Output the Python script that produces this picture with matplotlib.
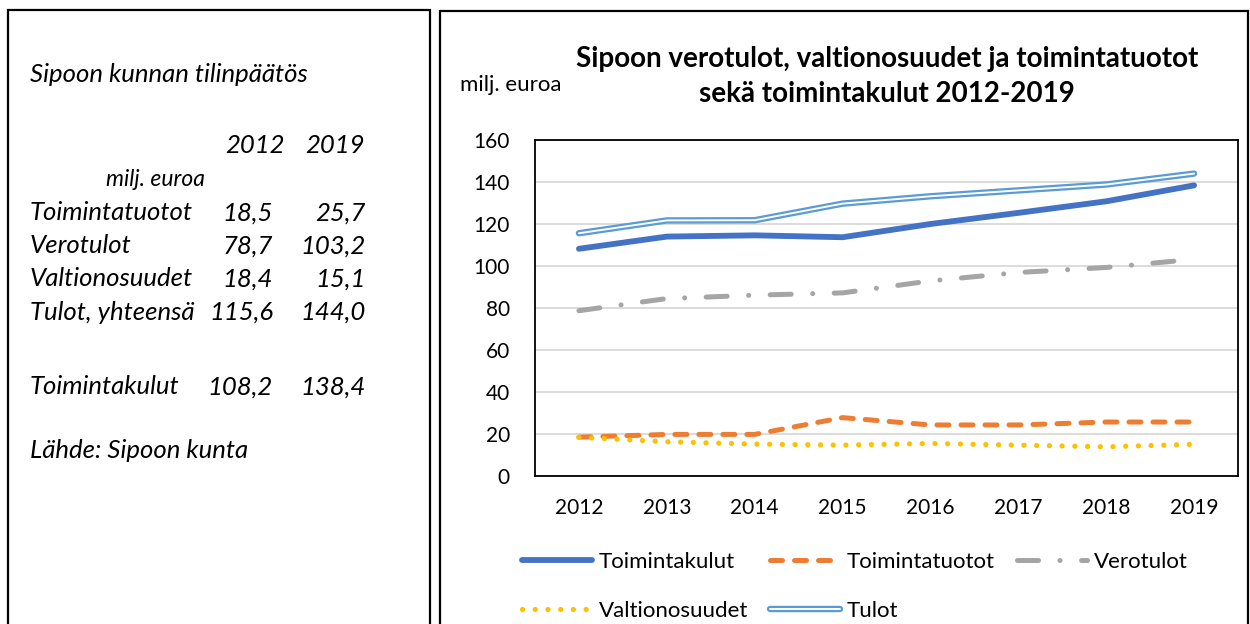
import matplotlib
matplotlib.use("Agg")
import matplotlib.pyplot as plt
import matplotlib.patheffects as pe
from matplotlib.patches import Rectangle

plt.rcParams['font.family'] = ['Lato', 'DejaVu Sans']

# ---- data ----
years = ["2012", "2013", "2014", "2015", "2016", "2017", "2018", "2019"]
toimintakulut = [108.2, 114.0, 114.6, 113.7, 120.0, 125.3, 130.8, 138.4]
toimintatuotot = [18.5, 19.8, 19.8, 27.8, 24.3, 24.3, 25.7, 25.7]
verotulot = [78.7, 84.5, 86.1, 87.2, 92.9, 96.9, 99.3, 103.2]
valtionosuudet = [18.4, 16.3, 15.2, 14.7, 15.5, 14.7, 13.9, 15.1]
tulot = [115.6, 121.7, 121.8, 129.7, 133.2, 136.0, 138.8, 144.0]

yticks = [0, 20, 40, 60, 80, 100, 120, 140, 160]

table_title = "Sipoon kunnan tilinpäätös"
table_years = ["2012", "2019"]
table_unit = "milj. euroa"
table_rows = ["Toimintatuotot", "Verotulot", "Valtionosuudet", "Tulot, yhteensä", "Toimintakulut"]
table_2012 = ["18,5", "78,7", "18,4", "115,6", "108,2"]
table_2019 = ["25,7", "103,2", "15,1", "144,0", "138,4"]
source = "Lähde: Sipoon kunta"

chart_title = "Sipoon verotulot, valtionosuudet ja toimintatuotot\nsekä toimintakulut 2012-2019"

W, H = 1250, 624
fig = plt.figure(figsize=(W / 100, H / 100), dpi=100)

def fx(px):
    return px / W

def fy(py):
    return 1 - py / H

# panel boxes
fig.add_artist(Rectangle((fx(8), fy(640)), fx(430 - 8), (640 - 10) / H,
                         transform=fig.transFigure, fill=False, ec='black', lw=1.6))
fig.add_artist(Rectangle((fx(440), fy(640)), fx(1248 - 440), (640 - 11) / H,
                         transform=fig.transFigure, fill=False, ec='black', lw=1.6))

# ---- left panel text ----
tkw = dict(style='italic', color='black', fontsize=18.5, va='center')
fig.text(fx(30), fy(75), table_title, ha='left', **tkw)
fig.text(fx(285), fy(145), table_years[0], ha='right', **tkw)
fig.text(fx(365), fy(145), table_years[1], ha='right', **tkw)
fig.text(fx(106), fy(180), table_unit, ha='left', style='italic', fontsize=16.5, va='center')
row_y = [213, 246, 279, 312, 387]
for lab, v1, v2, yy in zip(table_rows, table_2012, table_2019, row_y):
    fig.text(fx(30), fy(yy), lab, ha='left', **tkw)
    fig.text(fx(273), fy(yy), v1, ha='right', **tkw)
    fig.text(fx(366), fy(yy), v2, ha='right', **tkw)
fig.text(fx(30), fy(450), source, ha='left', **tkw)

# ---- chart ----
ax = fig.add_axes([fx(535), fy(476), fx(1238 - 535), (476 - 140) / H])
x = list(range(len(years)))

ax.set_axisbelow(True)
ax.yaxis.grid(True, color='#D9D9D9', lw=1.3)

l_kulut, = ax.plot(x, toimintakulut, color='#4472C4', lw=4.2, solid_capstyle='round',
                   solid_joinstyle='round', label='Toimintakulut')
l_tuot, = ax.plot(x, toimintatuotot, color='#ED7D31', lw=3.6, linestyle=(0, (2.4, 2.4)),
                  dash_capstyle='round', dash_joinstyle='round', label='Toimintatuotot')
l_vero, = ax.plot(x, verotulot, color='#A5A5A5', lw=3.6, linestyle=(0, (4.2, 4.3, 0.01, 4.3)),
                  dash_capstyle='round', dash_joinstyle='round', label='Verotulot')
l_valt, = ax.plot(x, valtionosuudet, color='#FFC000', lw=3.8, linestyle=(0, (0.01, 2.4)),
                  dash_capstyle='round', dash_joinstyle='round', label='Valtionosuudet')
l_tulot, = ax.plot(x, tulot, color='white', lw=1.4, solid_capstyle='round',
                   solid_joinstyle='round', label='Tulot',
                   path_effects=[pe.Stroke(linewidth=4.6, foreground='#5B9BD5'), pe.Normal()])

ax.set_xlim(-0.5, len(years) - 0.5)
ax.set_ylim(0, 160)
ax.set_yticks(yticks)
ax.set_yticklabels([str(v) for v in yticks])
ax.set_xticks(x)
ax.set_xticklabels(years)
ax.tick_params(axis='both', length=0, labelsize=15, colors='black')
ax.tick_params(axis='y', pad=18)
ax.tick_params(axis='x', pad=15.5)
for s in ax.spines.values():
    s.set_color('black')
    s.set_linewidth(1.3)

fig.text(fx(887), fy(76.5), chart_title, ha='center', va='center', fontsize=20,
         fontweight='bold', linespacing=1.45)
fig.text(fx(460), fy(85), "milj. euroa", ha='left', va='center', fontsize=16)

handles = [l_kulut, l_valt, l_tuot, l_tulot, l_vero]
labels = [h.get_label() for h in handles]
fig.legend(handles, labels, ncol=3, loc='upper left',
           bbox_to_anchor=(fx(522), fy(552)), frameon=False, fontsize=16,
           handlelength=3.15, handletextpad=0.3, columnspacing=1.0, labelspacing=1.3,
           borderaxespad=0, borderpad=0)

fig.savefig("out.png", dpi=100)
